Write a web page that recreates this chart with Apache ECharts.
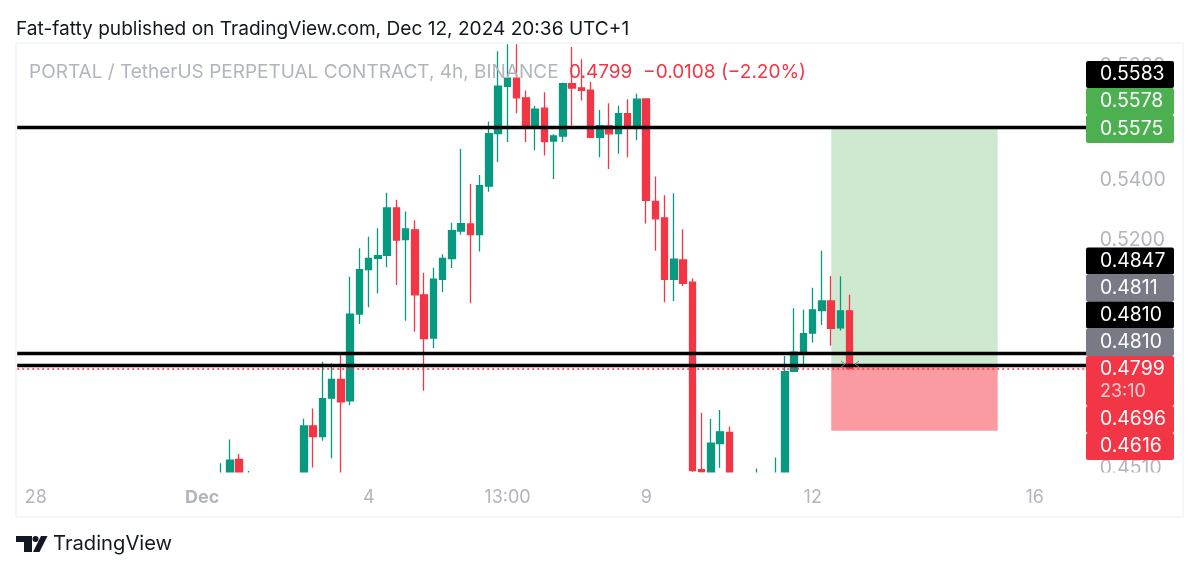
<!DOCTYPE html>
<html>
<head>
<meta charset="utf-8">
<style>
  html, body { margin: 0; padding: 0; background: #fff; }
  #chart { width: 1200px; height: 573px; }
</style>
<script src="https://cdn.jsdelivr.net/npm/echarts@6/dist/echarts.min.js"></script>
</head>
<body>
<div id="chart"></div>
<script>
// [open, close, low, high], null = bar sits wholly below the visible range
var firstBar = 22;
var ohlc = [
  [0.4480, 0.4490, 0.4475, 0.4523], [0.4480, 0.4532, 0.4470, 0.4591], [0.4534, 0.4480, 0.4470, 0.4549],
  [0.4480, 0.4490, 0.4475, 0.4501], null, null, null, null, null,
  [0.4480, 0.4630, 0.4470, 0.4651], [0.4630, 0.4599, 0.4511, 0.4681], [0.4599, 0.4710, 0.4587, 0.4820],
  [0.4711, 0.4767, 0.4537, 0.4815], [0.4767, 0.4700, 0.4480, 0.4840], [0.4703, 0.4966, 0.4690, 0.5083],
  [0.4966, 0.5106, 0.4935, 0.5175], [0.5106, 0.5142, 0.4987, 0.5212], [0.5142, 0.5151, 0.5031, 0.5240],
  [0.5152, 0.5307, 0.5114, 0.5358], [0.5307, 0.5201, 0.5057, 0.5334], [0.5203, 0.5238, 0.4945, 0.5295],
  [0.5235, 0.5026, 0.4911, 0.5266], [0.5026, 0.4890, 0.4733, 0.5096], [0.4892, 0.5076, 0.4861, 0.5112],
  [0.5075, 0.5142, 0.5034, 0.5155], [0.5141, 0.5232, 0.5111, 0.5258], [0.5231, 0.5255, 0.5219, 0.5507],
  [0.5254, 0.5219, 0.5000, 0.5387], [0.5219, 0.5382, 0.5164, 0.5418], [0.5380, 0.5560, 0.5361, 0.5602],
  [0.5560, 0.5728, 0.5462, 0.5854], [0.5727, 0.5756, 0.5531, 0.5880], [0.5756, 0.5686, 0.5631, 0.5880],
  [0.5686, 0.5580, 0.5531, 0.5712], [0.5580, 0.5646, 0.5502, 0.5657], [0.5649, 0.5532, 0.5484, 0.5706],
  [0.5534, 0.5552, 0.5404, 0.5558], [0.5551, 0.5737, 0.5531, 0.5740], [0.5737, 0.5721, 0.5587, 0.5870],
  [0.5721, 0.5713, 0.5676, 0.5825], [0.5713, 0.5547, 0.5546, 0.5743], [0.5547, 0.5588, 0.5478, 0.5643],
  [0.5587, 0.5559, 0.5438, 0.5667], [0.5560, 0.5630, 0.5490, 0.5658], [0.5630, 0.5578, 0.5478, 0.5681],
  [0.5578, 0.5681, 0.5537, 0.5700], [0.5682, 0.5332, 0.5256, 0.5682], [0.5329, 0.5271, 0.5167, 0.5413],
  [0.5274, 0.5075, 0.5003, 0.5349], [0.5075, 0.5140, 0.5007, 0.5356], [0.5137, 0.5062, 0.5054, 0.5237],
  [0.5066, 0.4502, 0.4499, 0.5078], [0.4505, 0.4499, 0.4490, 0.4668], [0.4480, 0.4580, 0.4470, 0.4650],
  [0.4579, 0.4613, 0.4510, 0.4676], [0.4611, 0.4480, 0.4470, 0.4628], null, null,
  [0.4480, 0.4490, 0.4475, 0.4508], null, [0.4480, 0.4490, 0.4475, 0.4539], [0.4480, 0.4790, 0.4470, 0.4837],
  [0.4791, 0.4849, 0.4790, 0.4984], [0.4847, 0.4905, 0.4803, 0.4979], [0.4907, 0.4979, 0.4878, 0.5048],
  [0.4977, 0.5007, 0.4932, 0.5167], [0.5007, 0.4922, 0.4868, 0.5086], [0.4923, 0.4976, 0.4915, 0.5085],
  [0.4976, 0.4799, 0.4799, 0.5026]
];

var barCount = 117;
var dateLabels = { 2: '28', 20: 'Dec', 38: '4', 53: '13:00', 68: '9', 86: '12', 110: '16' };
var priceTicks = [0.58, 0.56, 0.54, 0.52, 0.50, 0.48, 0.46, 0.451];
var levelLines = [0.5583, 0.4847, 0.4810];
var lastPrice = 0.4799;
var entryPrice = 0.4810;
var targetPrice = 0.5578;
var stopPrice = 0.4616;
var positionStart = 88;
var positionEnd = 106;

var tagTexts = ['0.5583', '0.5578', '0.5575', '0.4847', '0.4811', '0.4810', '0.4810', '0.4799', '0.4696', '0.4616'];
var tagColors = ['#000000', '#4caf50', '#4caf50', '#000000', '#787b86', '#000000', '#787b86', '#f23645', '#f23645', '#f23645'];

var categories = [];
var candles = [];
for (var i = 0; i < barCount; i++) {
  categories.push(String(i));
  var row = ohlc[i - firstBar];
  candles.push(row ? row : '-');
}

var green = '#089981';
var red = '#f23645';
var font = 'Inter, "Noto Sans", sans-serif';

/*-----price tags and page texts-----*/
var tagTops = [61, 88, 115, 247.5, 274.5, 301.5, 328.5, 356, 406, 433];
var tagHeights = [27, 27, 28, 27, 27, 27, 27.5, 50, 27, 27];
var tagGraphics = [];
tagTexts.forEach(function (t, i) {
  tagGraphics.push({
    type: 'rect', z: 100,
    shape: { x: 1086, y: tagTops[i], width: 88, height: tagHeights[i], r: 2 },
    style: { fill: tagColors[i] }
  });
  tagGraphics.push({
    type: 'text', z: 101, x: 1100, y: i === 7 ? 369 : tagTops[i] + tagHeights[i] / 2,
    style: { text: t, fill: '#fff', font: '19.4px ' + font, textVerticalAlign: 'middle' }
  });
});
tagGraphics.push({
  type: 'text', z: 101, x: 1100, y: 392,
  style: { text: '23:10', fill: 'rgba(255,255,255,0.75)', font: '18px ' + font, textVerticalAlign: 'middle' }
});

var pageGraphics = [
  { type: 'rect', z: -1, shape: { x: 16, y: 43, width: 1167, height: 474 }, style: { fill: 'none', stroke: '#f0f3fa', lineWidth: 1.5 } },
  // candles and the lowest price label stop at the pane's bottom edge
  { type: 'rect', z: 99, shape: { x: 17, y: 472.5, width: 1165, height: 14 }, style: { fill: '#fff' } },
  { type: 'text', x: 16, y: 29, style: { text: 'Fat-fatty published on TradingView.com, Dec 12, 2024 20:36 UTC+1', fill: '#131722', font: '19.1px ' + font, textVerticalAlign: 'middle' } },
  { type: 'text', z: 50, x: 29, y: 72, style: { text: 'PORTAL / TetherUS PERPETUAL CONTRACT, 4h, BINANCE', fill: '#b2b5be', font: '19px ' + font, textVerticalAlign: 'middle' } },
  { type: 'text', z: 50, x: 569, y: 72, style: { text: '0.4799  \u22120.0108 (\u22122.20%)', fill: red, font: '19px ' + font, textVerticalAlign: 'middle' } },
  { type: 'text', x: 53, y: 544, style: { text: 'TradingView', fill: '#131722', font: '20.2px ' + font, textVerticalAlign: 'middle' } },
  // logo
  { type: 'polygon', shape: { points: [[16, 536], [32, 536], [32, 552], [24, 552], [24, 542], [16, 542]] }, style: { fill: '#131722' } },
  { type: 'circle', shape: { cx: 35.5, cy: 539, r: 3 }, style: { fill: '#131722' } },
  { type: 'polygon', shape: { points: [[41, 536], [47.5, 536], [39.5, 552], [33, 552]] }, style: { fill: '#131722' } },
  // little position-tool handles either side of the last bar
  { type: 'polyline', z: 60, shape: { points: [[841, 361], [845, 364], [841, 367]] }, style: { fill: 'none', stroke: '#787b86', lineWidth: 1 } },
  { type: 'polyline', z: 60, shape: { points: [[859, 361], [855, 364], [859, 367]] }, style: { fill: 'none', stroke: '#787b86', lineWidth: 1 } }
];

var lineData = levelLines.map(function (p) {
  return [{ xAxis: 0, yAxis: p }, { xAxis: barCount - 1, yAxis: p }];
});
lineData.push([
  { xAxis: 0, yAxis: lastPrice, lineStyle: { color: red, width: 1.5, type: [2, 3] } },
  { xAxis: barCount - 1, yAxis: lastPrice }
]);

var chart = echarts.init(document.getElementById('chart'));

var option = {
  animation: false,
  backgroundColor: '#fff',
  grid: { top: 44, bottom: 101, left: 12.6, right: 105.15 },
  xAxis: {
    type: 'category',
    data: categories,
    boundaryGap: true,
    axisLine: { show: false },
    axisTick: { show: false },
    splitLine: { show: false },
    axisLabel: {
      interval: 0,
      margin: 17,
      hideOverlap: false,
      fontFamily: font,
      fontSize: 18,
      color: '#b2b5be',
      formatter: function (v) {
        var s = dateLabels[v];
        if (!s) return '';
        return s === 'Dec' ? '{b|Dec}' : s;
      },
      rich: { b: { fontFamily: font, fontSize: 18, fontWeight: 'bold', color: '#b2b5be' } }
    }
  },
  yAxis: {
    type: 'log',
    position: 'right',
    min: 0.44983,
    max: 0.58808,
    axisLine: { show: false },
    axisTick: { show: false },
    splitLine: { show: false },
    axisLabel: {
      customValues: priceTicks,
      margin: 5,
      fontFamily: font,
      fontSize: 19.4,
      color: '#b2b5be',
      formatter: function (v) { return Number(v).toFixed(4); }
    }
  },
  series: [
    {
      type: 'line',
      z: 1,
      silent: true,
      data: [],
      markLine: {
        silent: true,
        symbol: 'none',
        label: { show: false },
        lineStyle: { color: '#000', width: 3.4, type: 'solid' },
        data: lineData
      }
    },
    {
      type: 'candlestick',
      z: 2,
      data: candles,
      barWidth: 7,
      clip: true,
      itemStyle: { color: green, borderColor: green, color0: red, borderColor0: red, borderWidth: 1.3 }
    },
    {
      type: 'line',
      z: 3,
      silent: true,
      data: [],
      markArea: {
        silent: true,
        data: [
          [{ xAxis: positionStart, yAxis: targetPrice, itemStyle: { color: 'rgba(76,175,80,0.27)' } }, { xAxis: positionEnd, yAxis: entryPrice }],
          [{ xAxis: positionStart, yAxis: entryPrice, itemStyle: { color: 'rgba(247,82,95,0.58)' } }, { xAxis: positionEnd, yAxis: stopPrice }]
        ]
      }
    }
  ],
  graphic: pageGraphics.concat(tagGraphics)
};

chart.setOption(option);
</script>
</body>
</html>
